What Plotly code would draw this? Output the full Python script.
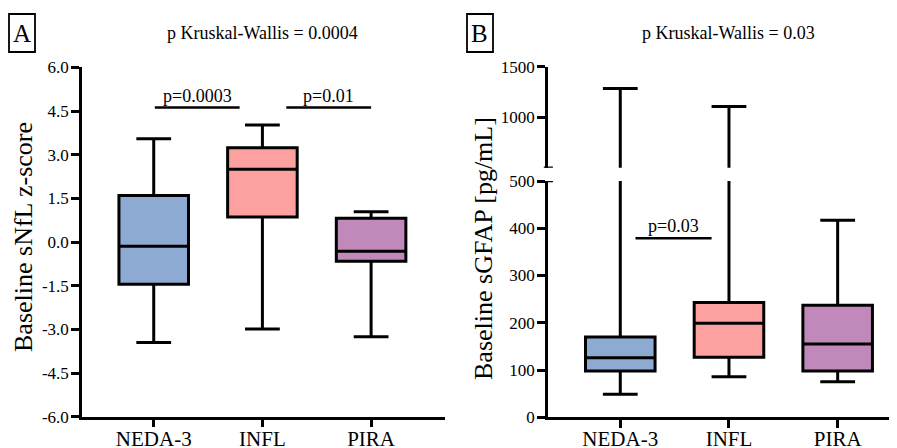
import plotly.graph_objects as go

# ---------------- data ----------------
groups = ["NEDA-3", "INFL", "PIRA"]
group_pos = [0, 1, 2]
colors = ["#8CAAD2", "#FCA0A0", "#C189BA"]

# Panel A: baseline sNfL z-score
a_min = [-3.45, -2.99, -3.25]
a_q1 = [-1.45, 0.86, -0.66]
a_med = [-0.14, 2.50, -0.32]
a_q3 = [1.60, 3.24, 0.82]
a_max = [3.55, 4.02, 1.04]
a_ticks = [6.0, 4.5, 3.0, 1.5, 0.0, -1.5, -3.0, -4.5, -6.0]
a_ticktext = ["6.0", "4.5", "3.0", "1.5", "0.0", "-1.5", "-3.0", "-4.5", "-6.0"]
a_title = "p Kruskal-Wallis = 0.0004"
a_ylabel = "Baseline sNfL z-score"
a_sig_x0 = [0.01, 1.22]
a_sig_x1 = [0.79, 2.00]
a_sig_y = [4.62, 4.62]
a_sig_text = ["p=0.0003", "p=0.01"]

# Panel B: baseline sGFAP [pg/mL]
b_min = [49, 86, 75]
b_q1 = [98, 127, 98]
b_med = [126, 199, 155]
b_q3 = [170, 243, 237]
b_max = [1283, 1105, 417]
b_low_ticks = [0, 100, 200, 300, 400, 500]
b_high_ticks = [1000, 1500]
b_title = "p Kruskal-Wallis = 0.03"
b_ylabel = "Baseline sGFAP [pg/mL]"
b_sig_x0 = [0.14]
b_sig_x1 = [0.84]
b_sig_y = [379]
b_sig_text = ["p=0.03"]

FONT = "Liberation Serif, Times New Roman, serif"
W, H = 897, 448
OFF = 8  # page body margin in the browser


def px(p):
    return (p - OFF) / W


def py(p):
    return 1 - (p - OFF) / H


fig = go.Figure()


def add_boxes(xa, ya, mins, q1s, meds, q3s, maxs):
    for i, g in enumerate(groups):
        fig.add_trace(go.Box(
            x=[group_pos[i]], q1=[q1s[i]], median=[meds[i]], q3=[q3s[i]],
            lowerfence=[mins[i]], upperfence=[maxs[i]],
            fillcolor=colors[i], line=dict(color="black", width=3),
            width=0.64, whiskerwidth=0.5, boxpoints=False,
            xaxis=xa, yaxis=ya, name=g, showlegend=False, hoverinfo="skip"))


add_boxes("x", "y", a_min, a_q1, a_med, a_q3, a_max)
add_boxes("x2", "y2", b_min, b_q1, b_med, b_q3, b_max)
add_boxes("x2", "y3", b_min, b_q1, b_med, b_q3, b_max)


def add_sig(xa, ya, x0s, x1s, ys, texts):
    for x0, x1, y, t in zip(x0s, x1s, ys, texts):
        fig.add_trace(go.Scatter(x=[x0, x1], y=[y, y], mode="lines",
                                 line=dict(color="black", width=2.5),
                                 xaxis=xa, yaxis=ya, showlegend=False,
                                 hoverinfo="skip"))
        fig.add_annotation(x=(x0 + x1) / 2, y=y, xref=xa, yref=ya, text=t,
                           showarrow=False, xanchor="center", yanchor="bottom",
                           yshift=0,
                           font=dict(family=FONT, size=18, color="black"))


add_sig("x", "y", a_sig_x0, a_sig_x1, a_sig_y, a_sig_text)
add_sig("x2", "y2", b_sig_x0, b_sig_x1, b_sig_y, b_sig_text)

axis_common = dict(showline=True, linecolor="black", linewidth=2.5,
                   ticks="outside", ticklen=8, tickwidth=2.5, tickcolor="black",
                   showgrid=False, zeroline=False, automargin=False,
                   ticklabelstandoff=-1,
                   tickfont=dict(family=FONT, size=17, color="black"))
xcommon = dict(axis_common, tickvals=group_pos, ticktext=groups,
               ticklabelstandoff=-7,
               tickfont=dict(family=FONT, size=21, color="black"))

fig.update_layout(
    template="none",
    width=W, height=H, margin=dict(l=0, r=0, t=0, b=0, pad=0),
    paper_bgcolor="white", plot_bgcolor="white", boxmode="overlay",
    xaxis=dict(xcommon, domain=[px(82), px(445)], range=[-0.66, 2.68], anchor="y"),
    yaxis=dict(axis_common, domain=[py(416.7), py(67.4)], range=[-6, 6],
               tickvals=a_ticks, ticktext=a_ticktext, anchor="x"),
    xaxis2=dict(xcommon, domain=[px(548), px(897)], range=[-0.665, 2.546], anchor="y2"),
    yaxis2=dict(axis_common, domain=[py(417.3), py(181)], range=[0, 500],
                tickvals=b_low_ticks, anchor="x2"),
    yaxis3=dict(axis_common, domain=[py(167.7), py(66.7)], range=[500, 1500],
                tickvals=b_high_ticks, anchor="x2"),
)

# titles
for txt, cx in [(a_title, 263), (b_title, 728)]:
    fig.add_annotation(x=px(cx), y=py(33), xref="paper", yref="paper", text=txt,
                       showarrow=False, xanchor="center", yanchor="middle",
                       font=dict(family=FONT, size=18, color="black"))

# y labels
for txt, cx, cy in [(a_ylabel, 23, 237), (b_ylabel, 483, 249)]:
    fig.add_annotation(x=px(cx), y=py(cy), xref="paper", yref="paper", text=txt,
                       textangle=-90, showarrow=False, xanchor="center",
                       yanchor="middle",
                       font=dict(family=FONT, size=26, color="black"))

# panel letters in boxes
for letter, cx, x0, x1 in [("A", 22, 9, 35), ("B", 480, 467, 493)]:
    fig.add_shape(type="rect", xref="paper", yref="paper",
                  x0=px(x0), x1=px(x1), y0=py(52), y1=py(14),
                  line=dict(color="black", width=1.8))
    fig.add_annotation(x=px(cx), y=py(33.5), xref="paper", yref="paper", text=letter,
                       showarrow=False, xanchor="center", yanchor="middle",
                       font=dict(family=FONT, size=25, color="black"))

# axis break end marks
for yref in ["y2", "y3"]:
    fig.add_shape(type="line", xref="x2 domain", yref=yref,
                  x0=-0.012, x1=0.014, y0=500, y1=500,
                  line=dict(color="black", width=2.5))

fig.write_html("out.html")
